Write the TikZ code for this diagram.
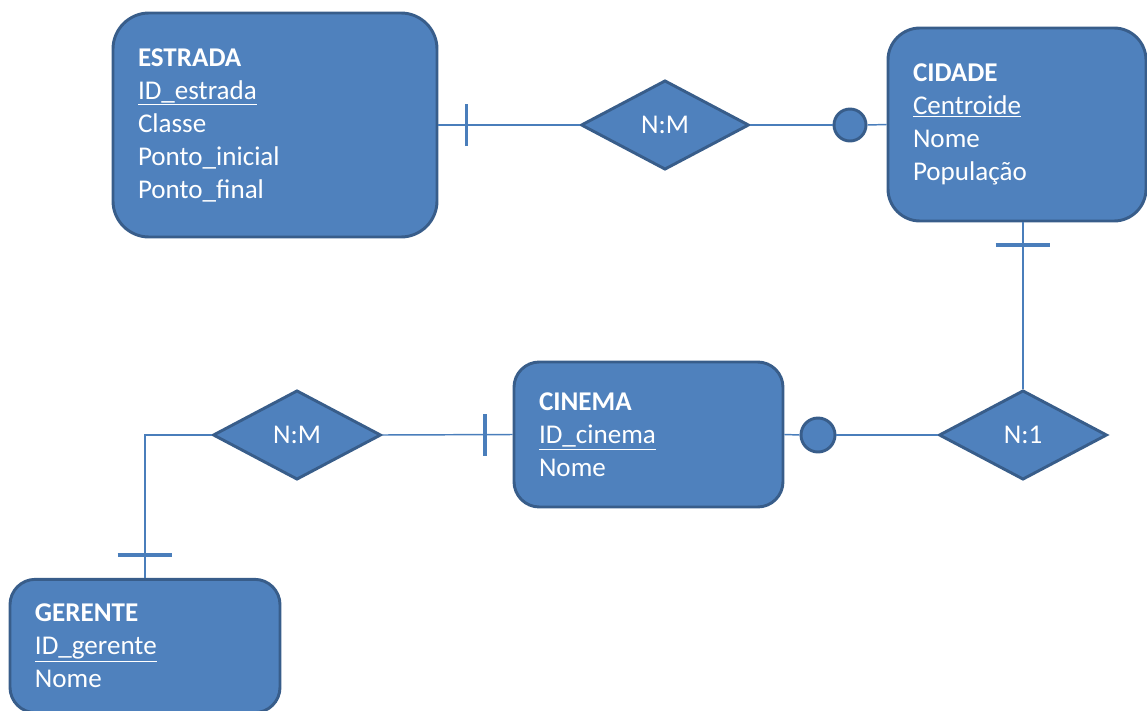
\documentclass[tikz,border=0pt]{standalone}
\usepackage{fontspec}
\setmainfont{Carlito}
\usetikzlibrary{shapes.geometric}
\definecolor{erfill}{HTML}{4F81BD}
\definecolor{erdraw}{HTML}{385D8A}
\definecolor{erline}{HTML}{4A7EBB}
\tikzset{
    entity/.style={draw=erdraw,fill=erfill,line width=2.2pt,text=white,align=left,
        inner xsep=18.75pt,inner ysep=0pt,font=\fontsize{20.3}{24.75}\selectfont},
    relation/.style={diamond,aspect=1.9,draw=erdraw,fill=erfill,line width=2.2pt,text=white,
        inner sep=0pt,minimum width=126pt,minimum height=67pt,font=\fontsize{20.3}{24.75}\selectfont},
    optional/.style={circle,draw=erdraw,fill=erfill,line width=2.2pt,inner sep=0pt},
    link/.style={erline,line width=1.1pt},
    onebar/.style={erline,line width=2.6pt},
}

\begin{document}
\begin{tikzpicture}[x=0.75pt,y=-0.75pt]
\clip (0,0) rectangle (1147,711);
% entidades
\node[entity,rounded corners=27pt,text width=205.5pt,minimum height=168pt] (estrada) at (275,125)
    {\textbf{ESTRADA}\\ \underline{ID\_estrada}\\ Classe\\ Ponto\_inicial\\ Ponto\_final};
\node[entity,rounded corners=24pt,text width=156pt,minimum height=144.75pt] (cidade) at (1017,124.5)
    {\textbf{CIDADE}\\ \underline{Centroide}\\ Nome\\ População};
\node[entity,rounded corners=19pt,text width=164.25pt,minimum height=108.75pt] (cinema) at (648.5,434.5)
    {\textbf{CINEMA}\\ \underline{ID\_cinema}\\ Nome};
\node[entity,rounded corners=19pt,text width=165pt,minimum height=100pt] (gerente) at (145,646)
    {\textbf{GERENTE}\\ \underline{ID\_gerente}\\ Nome};
% relacionamentos
\node[relation] (rel1) at (665,125) {N:M};
\node[relation] (rel2) at (1023,435) {N:1};
\node[relation] (rel3) at (297,435) {N:M};
% cardinalidade opcional
\node[optional,minimum size=24pt] (c1) at (850,125) {};
\node[optional,minimum size=25.5pt] (c2) at (818,435) {};
% ligacoes
\draw[link] (estrada.east) -- (rel1.west) coordinate[pos=0.2] (b1);
\draw[onebar] ([yshift=-15.75pt]b1) -- ([yshift=15.75pt]b1);
\draw[link] (rel1.east) -- (c1.west);
\draw[link] (c1.east) -- (cidade.west);
\draw[link] (cidade.south -| rel2.north) -- (rel2.north) coordinate[pos=0.136] (b2);
\draw[onebar] ([xshift=-20.6pt]b2) -- ([xshift=20.6pt]b2);
\draw[link] (c2.east) -- (rel2.west);
\draw[link] (cinema.east) -- (c2.west);
\draw[link] (rel3.east) -- (cinema.west) coordinate[pos=0.79] (b3);
\draw[onebar] ([yshift=-15.75pt]b3) -- ([yshift=15.75pt]b3);
\draw[link] (rel3.west) -| (gerente.north) coordinate[pos=0.92] (b4);
\draw[onebar] ([xshift=-20.6pt]b4) -- ([xshift=20.6pt]b4);
\end{tikzpicture}
\end{document}
